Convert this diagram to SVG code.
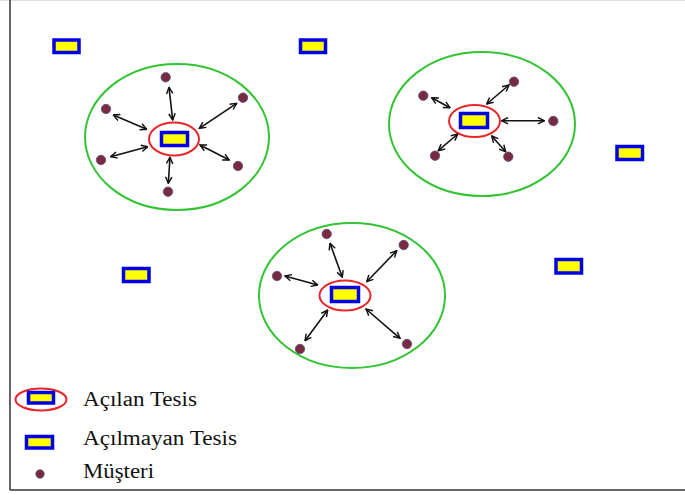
<svg xmlns="http://www.w3.org/2000/svg" width="685" height="495" viewBox="0 0 685 495">
<style>
.zone{fill:none;stroke:#33c433;stroke-width:2}
.open{fill:#fff;stroke:#e8262a;stroke-width:2}
.fac{fill:#ffff00;stroke:#0000e6;stroke-width:3.5}
.cust{fill:#7a2a40;stroke:#5b4a7a;stroke-width:0.8}
.arr{stroke:#111;stroke-width:1.6;fill:none;marker-start:url(#ah);marker-end:url(#ah)}
.lbl{font-family:"Liberation Serif","Times New Roman",serif;font-size:20.5px;fill:#111}
</style>
<defs>
<marker id="ah" viewBox="0 0 10 10" refX="9" refY="5" markerWidth="8" markerHeight="8" orient="auto-start-reverse" markerUnits="userSpaceOnUse">
<path d="M1,1 L9,5 L1,9" fill="none" stroke="#111" stroke-width="1.8"/>
</marker>
</defs>
<rect x="0" y="0" width="685" height="495" fill="#fff"/>
<line x1="0" y1="0.5" x2="685" y2="0.5" stroke="#ddd" stroke-width="1"/>
<line x1="10" y1="0" x2="10" y2="490" stroke="#333" stroke-width="1.5"/>
<line x1="10" y1="490" x2="685" y2="490" stroke="#333" stroke-width="1.5"/>

<g id="zone1"><ellipse class="zone" cx="177" cy="137" rx="92" ry="73"/></g>
<g id="zone2"><ellipse class="zone" cx="482" cy="124" rx="93" ry="72"/></g>
<g id="zone3"><ellipse class="zone" cx="352" cy="295.5" rx="93" ry="72.5"/></g>

<g id="open1"><ellipse class="open" cx="174" cy="139" rx="25" ry="16.5"/><rect class="fac" x="161.5" y="132.5" width="26" height="13"/></g>
<g id="open2"><ellipse class="open" cx="474.5" cy="121" rx="25.5" ry="16"/><rect class="fac" x="460.5" y="113.5" width="27" height="14"/></g>
<g id="open3"><ellipse class="open" cx="345" cy="295.5" rx="25.5" ry="15"/><rect class="fac" x="331.5" y="287.5" width="27" height="14"/></g>

<g id="fac4"><rect class="fac" x="54" y="40" width="25" height="12.5"/></g>
<g id="fac5"><rect class="fac" x="300.5" y="40" width="25" height="12.5"/></g>
<g id="fac6"><rect class="fac" x="617" y="146.5" width="25.5" height="13"/></g>
<g id="fac7"><rect class="fac" x="123.5" y="268.5" width="25.5" height="13"/></g>
<g id="fac8"><rect class="fac" x="556" y="259.5" width="25.5" height="13.5"/></g>

<g id="customers">
<circle class="cust" cx="165.7" cy="77.3" r="4.7"/>
<circle class="cust" cx="243" cy="97.7" r="4.7"/>
<circle class="cust" cx="106" cy="109" r="4.7"/>
<circle class="cust" cx="101" cy="160" r="4.7"/>
<circle class="cust" cx="238" cy="166" r="4.7"/>
<circle class="cust" cx="168" cy="191.7" r="4.7"/>
<circle class="cust" cx="423.3" cy="95.7" r="4.7"/>
<circle class="cust" cx="514" cy="81.7" r="4.7"/>
<circle class="cust" cx="553.3" cy="121" r="4.7"/>
<circle class="cust" cx="435" cy="155.7" r="4.7"/>
<circle class="cust" cx="508.3" cy="156.7" r="4.7"/>
<circle class="cust" cx="326.7" cy="234" r="4.7"/>
<circle class="cust" cx="403.7" cy="245" r="4.7"/>
<circle class="cust" cx="277" cy="276" r="4.7"/>
<circle class="cust" cx="300" cy="349" r="4.7"/>
<circle class="cust" cx="407" cy="344" r="4.7"/>
</g>

<g id="connectors">
<line class="arr" x1="169" y1="87.3" x2="172.7" y2="120"/>
<line class="arr" x1="236.7" y1="103.3" x2="199.3" y2="128.3"/>
<line class="arr" x1="113.3" y1="115" x2="146.7" y2="129.3"/>
<line class="arr" x1="110.7" y1="156.7" x2="147.7" y2="146.7"/>
<line class="arr" x1="200" y1="145" x2="229.3" y2="160"/>
<line class="arr" x1="170" y1="157.3" x2="168.3" y2="183.3"/>
<line class="arr" x1="431.7" y1="97.7" x2="450" y2="107.7"/>
<line class="arr" x1="509" y1="85" x2="486.7" y2="104"/>
<line class="arr" x1="501.7" y1="120.7" x2="544.3" y2="120.7"/>
<line class="arr" x1="438.3" y1="150.7" x2="457.7" y2="134"/>
<line class="arr" x1="491.7" y1="136" x2="505.7" y2="151.7"/>
<line class="arr" x1="330" y1="243.3" x2="342.3" y2="277.3"/>
<line class="arr" x1="396.7" y1="250.7" x2="366.7" y2="281.7"/>
<line class="arr" x1="285" y1="276" x2="317.7" y2="285"/>
<line class="arr" x1="305" y1="340.7" x2="327.7" y2="310"/>
<line class="arr" x1="366" y1="309" x2="400" y2="338.3"/>
</g>

<g id="legend">
<ellipse class="open" cx="41" cy="399.5" rx="25.5" ry="11"/>
<rect class="fac" x="28.5" y="392.5" width="25" height="10.5"/>
<text class="lbl" x="83" y="406" textLength="114" lengthAdjust="spacingAndGlyphs">Açılan Tesis</text>
<rect class="fac" x="26.5" y="436.5" width="26" height="11.5"/>
<text class="lbl" x="83" y="445" textLength="154" lengthAdjust="spacingAndGlyphs">Açılmayan Tesis</text>
<circle class="cust" cx="40" cy="474" r="4.2"/>
<text class="lbl" x="83" y="478" textLength="71" lengthAdjust="spacingAndGlyphs">Müşteri</text>
</g>
</svg>
